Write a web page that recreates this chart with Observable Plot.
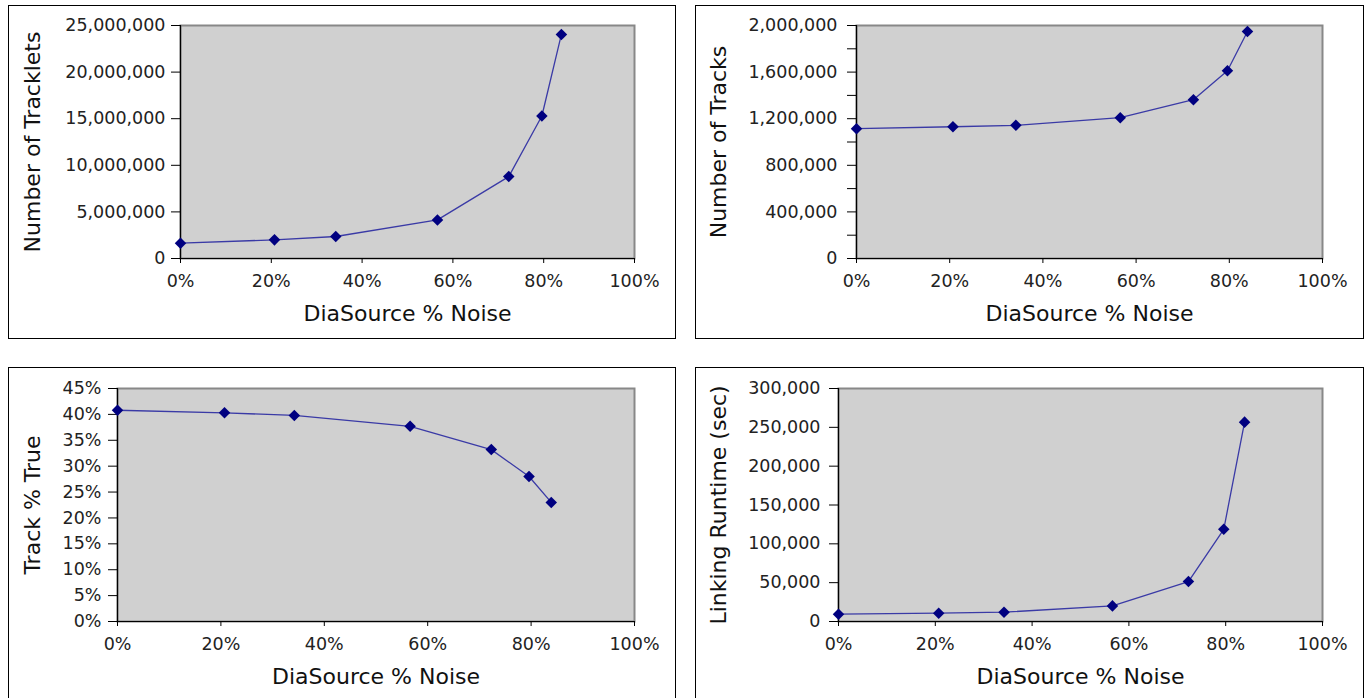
<!DOCTYPE html>
<html>
<head>
<meta charset="utf-8">
<script src="https://cdn.jsdelivr.net/npm/d3@7"></script>
<script src="https://cdn.jsdelivr.net/npm/@observablehq/plot@0.6"></script>
<style>
  html, body { margin: 0; padding: 0; background: #fff; overflow: hidden; }
  #root { position: relative; width: 1371px; height: 698px; }
  .panel { position: absolute; border: 1px solid #000; box-sizing: border-box; background: #fff; overflow: hidden; }
  .panel svg { display: block; }
</style>
</head>
<body>
<div id="root"></div>
<script>
// ---- data ----
const noisePct = [0, 20.7, 34.2, 56.6, 72.3, 79.6, 83.9];
const tracklets = [1640000, 2000000, 2360000, 4140000, 8790000, 15290000, 24040000];
const tracks = [1114000, 1131000, 1143000, 1209000, 1363000, 1611000, 1949000];
const trackPctTrue = [40.8, 40.3, 39.8, 37.7, 33.2, 28.0, 23.0];
const runtimeSec = [9400, 10700, 12000, 20100, 51400, 118700, 256700];

const xTicks = [0, 20, 40, 60, 80, 100];
const xTitle = "DiaSource % Noise";
const trackletTicks = [0, 5000000, 10000000, 15000000, 20000000, 25000000];
const trackTicks = [0, 200000, 400000, 600000, 800000, 1000000, 1200000, 1400000, 1600000, 1800000, 2000000];
const trackLabelStep = 400000;
const pctTicks = [0, 5, 10, 15, 20, 25, 30, 35, 40, 45];
const runtimeTicks = [0, 50000, 100000, 150000, 200000, 250000, 300000];

const comma = d3.format(",");

const panels = [
  {values: tracklets, yTitle: "Number of Tracklets", yMax: 25000000, yTicks: trackletTicks,
   fmt: d => comma(d), box: {left: 8, top: 5, w: 668, h: 334},
   m: {l: 171, r: 41, t: 19, b: 80}, titleDx: -148, pad: 6},
  {values: tracks, yTitle: "Number of Tracks", yMax: 2000000, yTicks: trackTicks,
   fmt: d => (d % trackLabelStep === 0 ? comma(d) : ""), box: {left: 695, top: 5, w: 669, h: 334},
   m: {l: 160, r: 41, t: 19, b: 80}, titleDx: -138, pad: 10},
  {values: trackPctTrue, yTitle: "Track % True", yMax: 45, yTicks: pctTicks,
   fmt: d => d + "%", box: {left: 8, top: 367, w: 668, h: 333},
   m: {l: 108, r: 41, t: 20, b: 78}, titleDx: -85, pad: 7},
  {values: runtimeSec, yTitle: "Linking Runtime (sec)", yMax: 300000, yTicks: runtimeTicks,
   fmt: d => comma(d), box: {left: 695, top: 367, w: 669, h: 333},
   m: {l: 142, r: 41, t: 20, b: 78}, titleDx: -120, pad: 9}
];

const root = document.getElementById("root");

for (const p of panels) {
  const data = noisePct.map((x, i) => ({x, y: p.values[i]}));
  const W = p.box.w - 2, H = p.box.h - 2;
  const chart = Plot.plot({
    width: W,
    height: H,
    marginLeft: p.m.l,
    marginRight: p.m.r,
    marginTop: p.m.t,
    marginBottom: p.m.b,
    style: {fontFamily: "DejaVu Sans", fontSize: "17.5px", color: "#222", background: "white", overflow: "visible"},
    x: {domain: [0, 100]},
    y: {domain: [0, p.yMax]},
    marks: [
      Plot.frame({fill: "#d0d0d0", stroke: "#888888", strokeWidth: 2}),
      Plot.ruleX([0], {stroke: "#000", strokeWidth: 1.2}),
      Plot.ruleY([0], {stroke: "#000", strokeWidth: 1.2}),
      Plot.axisX({ticks: xTicks, tickFormat: d => d + "%", tickSize: 5, tickPadding: 11, label: null, stroke: "#000"}),
      Plot.axisY({ticks: p.yTicks, tickFormat: p.fmt, tickSize: 9, tickPadding: p.pad, label: null, stroke: "#000"}),
      Plot.line(data, {x: "x", y: "y", stroke: "#3a3aa6", strokeWidth: 1.3}),
      Plot.dot(data, {x: "x", y: "y", symbol: "diamond2", r: 5.2, fill: "#000080", stroke: "none"}),
      Plot.text([xTitle], {text: d => d, frameAnchor: "bottom", lineAnchor: "middle", textAnchor: "middle", dy: 55, fontSize: 22, fill: "#111"}),
      Plot.text([p.yTitle], {text: d => d, frameAnchor: "left", lineAnchor: "middle", textAnchor: "middle", rotate: -90, dx: p.titleDx, fontSize: 22, fill: "#111"})
    ]
  });
  const div = document.createElement("div");
  div.className = "panel";
  div.style.left = p.box.left + "px";
  div.style.top = p.box.top + "px";
  div.style.width = p.box.w + "px";
  div.style.height = p.box.h + "px";
  div.appendChild(chart);
  root.appendChild(div);
}
</script>
</body>
</html>
